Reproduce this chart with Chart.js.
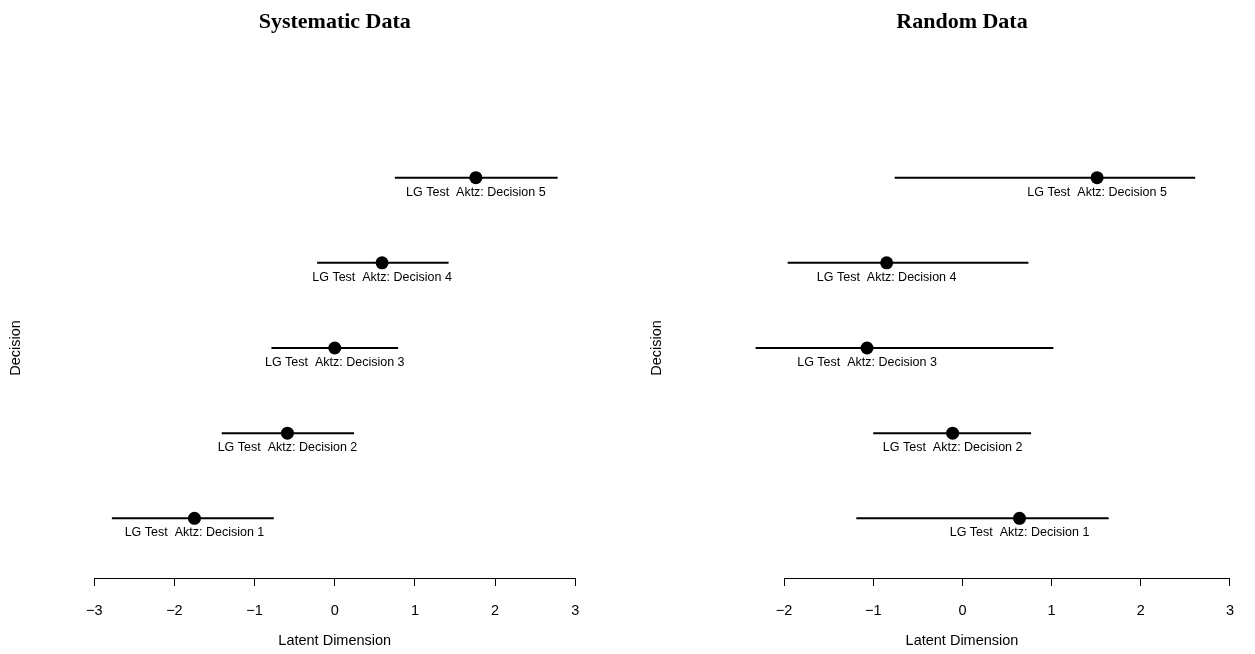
<!DOCTYPE html>
<html>
<head>
<meta charset="utf-8">
<title>Latent Dimension by Decision</title>
<script src="https://cdn.jsdelivr.net/npm/chart.js@4"></script>
<style>
  html, body { margin: 0; padding: 0; background: #fff; }
  #wrap { position: relative; width: 1255px; height: 654px; }
  .panel { position: absolute; top: 0; height: 654px; }
  #panel-sys  { left: 0;     width: 628px; }
  #panel-rand { left: 628px; width: 627px; }
</style>
</head>
<body>
<div id="wrap">
  <div class="panel" id="panel-sys"><canvas id="chart-sys"></canvas></div>
  <div class="panel" id="panel-rand"><canvas id="chart-rand"></canvas></div>
</div>
<script>
"use strict";

// ── Data ──────────────────────────────────────────────────────────────────────
const decisions = [1, 2, 3, 4, 5];
const labelPrefix = "LG Test  Aktz: Decision ";

// Systematic data: point estimate and interval bounds
const sysMean = [-1.75, -0.59, 0.00, 0.59, 1.76];
const sysLow  = [-2.78, -1.41, -0.79, -0.22, 0.75];
const sysHigh = [-0.76, 0.24, 0.79, 1.42, 2.78];

// Random data
const randMean = [0.64, -0.11, -1.07, -0.85, 1.51];
const randLow  = [-1.19, -1.00, -2.32, -1.96, -0.76];
const randHigh = [1.64, 0.77, 1.02, 0.74, 2.61];

const sysTicks  = [-3, -2, -1, 0, 1, 2, 3];
const randTicks = [-2, -1, 0, 1, 2, 3];

const SANS = "'Liberation Sans', Arial, sans-serif";

// ── Plugins ───────────────────────────────────────────────────────────────────
// Text under each dot, centred on it
const pointLabels = {
  id: "pointLabels",
  afterDatasetsDraw(chart) {
    const idx = chart.data.datasets.findIndex(d => d.isDot);
    const meta = chart.getDatasetMeta(idx);
    const ctx = chart.ctx;
    ctx.save();
    ctx.font = "12.5px " + SANS;
    ctx.fillStyle = "#000";
    ctx.textAlign = "center";
    ctx.textBaseline = "middle";
    meta.data.forEach((el, i) => {
      ctx.fillText(labelPrefix + decisions[i], el.x, el.y + 14.5);
    });
    ctx.restore();
  }
};

// Axis line only between the first and last tick (R-style)
const axisLine = {
  id: "axisLine",
  afterDraw(chart) {
    const x = chart.scales.x;
    const ticks = x.ticks.map(t => t.value);
    const x0 = x.getPixelForValue(Math.min(...ticks));
    const x1 = x.getPixelForValue(Math.max(...ticks));
    const ctx = chart.ctx;
    ctx.save();
    ctx.strokeStyle = "#000";
    ctx.lineWidth = 1;
    ctx.beginPath();
    ctx.moveTo(x0, x.top + 0.5);
    ctx.lineTo(x1, x.top + 0.5);
    ctx.stroke();
    ctx.restore();
  }
};

// ── Builder ───────────────────────────────────────────────────────────────────
function buildChart(canvasId, title, means, lows, highs, tickVals, xMin, xMax, axisW, padRight, yTitlePad) {
  const datasets = decisions.map((d, i) => ({
    type: "line",
    data: [{ x: lows[i], y: d }, { x: highs[i], y: d }],
    borderColor: "#000",
    borderWidth: 2,
    pointRadius: 0,
    fill: false,
  }));

  datasets.push({
    type: "scatter",
    isDot: true,
    data: decisions.map((d, i) => ({ x: means[i], y: d })),
    pointRadius: 6.5,
    pointBackgroundColor: "#000",
    pointBorderColor: "#000",
    pointBorderWidth: 0,
  });

  return new Chart(document.getElementById(canvasId), {
    type: "scatter",
    data: { datasets },
    plugins: [pointLabels, axisLine],
    options: {
      responsive: true,
      maintainAspectRatio: false,
      animation: false,
      events: [],
      layout: { padding: { left: 0, right: padRight, top: 0, bottom: 0 } },
      plugins: {
        legend: { display: false },
        tooltip: { enabled: false },
        title: {
          display: true,
          text: title,
          fullSize: false,
          color: "#000",
          font: { family: "'Liberation Serif', 'Times New Roman', serif", size: 22, weight: "bold", lineHeight: 1.2 },
          padding: { top: 9.5, bottom: 82.1 },
        },
      },
      scales: {
        x: {
          type: "linear",
          min: xMin,
          max: xMax,
          afterBuildTicks: s => { s.ticks = tickVals.map(v => ({ value: v })); },
          afterFit: s => { s.height = 76; },
          border: { display: false },
          grid: {
            drawOnChartArea: false,
            drawTicks: true,
            tickLength: 8,
            tickColor: "#000",
            tickWidth: 1,
          },
          ticks: {
            color: "#000",
            padding: 16,
            maxRotation: 0,
            font: { family: SANS, size: 14.5 },
            callback: v => (v < 0 ? "\u2212" + Math.abs(v) : String(v)),
          },
          title: {
            display: true,
            text: "Latent Dimension",
            color: "#000",
            font: { family: SANS, size: 14.5, lineHeight: 1.2 },
            padding: { top: 0, bottom: 4.3 },
          },
        },
        y: {
          type: "linear",
          min: 0.3,
          max: 5.7,
          afterFit: s => { s.width = axisW; },
          border: { display: false },
          grid: { display: false },
          ticks: { display: false },
          title: {
            display: true,
            text: "Decision",
            color: "#000",
            font: { family: SANS, size: 14.5, lineHeight: 1.2 },
            padding: { top: yTitlePad, bottom: 0 },
          },
        },
      },
    },
  });
}

// ── Go ────────────────────────────────────────────────────────────────────────
buildChart("chart-sys",  "Systematic Data", sysMean,  sysLow,  sysHigh,  sysTicks,  -3.24, 3.24, 75, 33.5, 7.3);
buildChart("chart-rand", "Random Data",     randMean, randLow, randHigh, randTicks, -3.19, 3.18, 50, 9, 20.3);
</script>
</body>
</html>
